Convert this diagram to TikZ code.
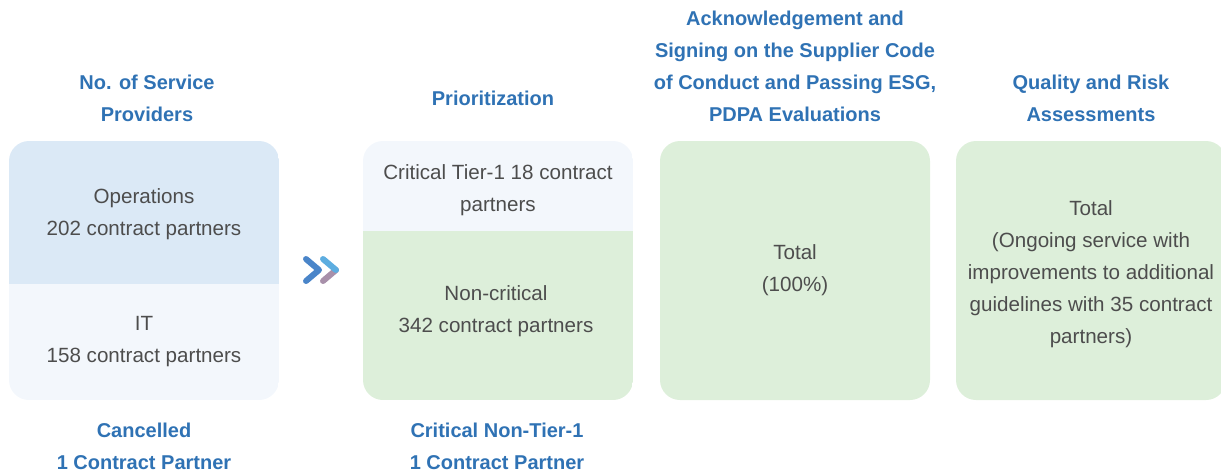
\documentclass[tikz,border=0pt]{standalone}
\usepackage{fontspec}
\setmainfont{Liberation Sans}
\definecolor{headblue}{HTML}{2F72B4}
\definecolor{bodygray}{HTML}{4D4D4D}
\definecolor{opsblue}{HTML}{DBE9F6}
\definecolor{paleblue}{HTML}{F3F7FC}
\definecolor{palegreen}{HTML}{DDEFDA}
\definecolor{chevA}{HTML}{4A85C9}
\definecolor{chevB}{HTML}{5DADE0}
\definecolor{chevC}{HTML}{A890AA}
\begin{document}
\begin{tikzpicture}[x=1pt,y=-1pt,
    head/.style={align=center,font=\fontsize{20}{32}\selectfont\bfseries,text=headblue},
    body/.style={align=center,font=\fontsize{20.6}{32}\selectfont,text=bodygray},
    chev/.style={line width=6pt,line cap=round,line join=round}]
    \useasboundingbox (0,0) rectangle (1221,475);
    \clip (0,0) rectangle (1221,475);
    % box fills
    \begin{scope}
      \clip[rounded corners=20pt] (9,141) rectangle (279,400);
      \fill[opsblue] (9,141) rectangle (279,284);
      \fill[paleblue] (9,284) rectangle (279,400);
    \end{scope}
    \begin{scope}
      \clip[rounded corners=20pt] (363,141) rectangle (633,400);
      \fill[paleblue] (363,141) rectangle (633,231);
      \fill[palegreen] (363,231) rectangle (633,400);
    \end{scope}
    \fill[palegreen,rounded corners=20pt] (660,141) rectangle (930,400);
    \fill[palegreen,rounded corners=20pt] (956,141) rectangle (1226,400);
    % chevrons
    \draw[chev,chevA] (306,259) -- (319,270) -- (306,281);
    \draw[chev,chevC] (336,270) -- (323,281);
    \draw[chev,chevB] (323,259) -- (336,270);
    % headings
    \node[head] (provhead) at (147,98) {No. of Service\\Providers};
    \node[head] (priohead) at (493,98) {Prioritization};
    \node[head] (codehead) at (795,66) {Acknowledgement and\\Signing on the Supplier Code\\of Conduct and Passing ESG,\\PDPA Evaluations};
    \node[head] (riskhead) at (1091,98) {Quality and Risk\\Assessments};
    \node[head] (cancel) at (144,446) {Cancelled\\1 Contract Partner};
    \node[head] (nontier) at (497,446) {Critical Non-Tier-1\\1 Contract Partner};
    % box texts
    \node[body] (ops) at (144,214) {Operations\\202 contract partners};
    \node[body] (it) at (144,342) {IT\\158 contract partners};
    \node[body] (tier) at (498,190) {Critical Tier-1 18 contract\\partners};
    \node[body] (noncrit) at (496,311) {Non-critical\\342 contract partners};
    \node[body] (total) at (795,270) {Total\\(100\%)};
    \node[body] (ongoing) at (1091,274) {Total\\(Ongoing service with\\improvements to additional\\guidelines with 35 contract\\partners)};
\end{tikzpicture}
\end{document}
